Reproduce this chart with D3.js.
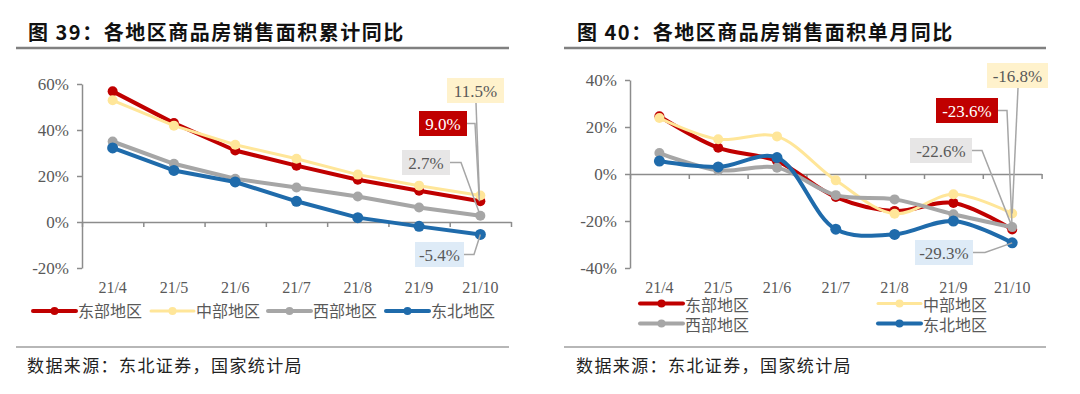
<!DOCTYPE html>
<html>
<head>
<meta charset="utf-8">
<script src="https://cdn.jsdelivr.net/npm/d3@7"></script>
<style>
  body { margin: 0; background: #fff; }
  svg { display: block; }
</style>
</head>
<body>
<svg></svg>
<script>
var months = ["21/4", "21/5", "21/6", "21/7", "21/8", "21/9", "21/10"];
var regions = ["东部地区", "中部地区", "西部地区", "东北地区"];

/* cumulative YoY, % */
var cumEast = [56.8, 43.0, 31.1, 24.5, 18.4, 13.6, 9.0];
var cumCentral = [52.9, 41.9, 33.6, 27.5, 20.6, 15.8, 11.5];
var cumWest = [35.0, 25.3, 18.8, 15.0, 11.1, 6.3, 2.7];
var cumNortheast = [32.2, 22.4, 17.4, 9.0, 1.9, -1.9, -5.4];

/* single month YoY, % */
var monEast = [24.6, 11.2, 5.5, -9.8, -15.7, -12.3, -23.6];
var monCentral = [23.8, 14.8, 16.0, -2.7, -16.9, -8.6, -16.8];
var monWest = [8.9, 1.6, 2.7, -9.0, -10.8, -17.1, -22.6];
var monNortheast = [5.5, 3.0, 7.0, -23.5, -25.7, -20.0, -29.3];

var leftTicks = [-20, 0, 20, 40, 60];
var rightTicks = [-40, -20, 0, 20, 40];

var colors = ["#c00000", "#ffe699", "#a6a6a6", "#1f6bab"];
var widths = [4, 3, 4, 4];
var boxFill = ["#c00000", "#fff2cc", "#e7e6e6", "#deebf7"];
var boxText = ["#ffffff", "#595959", "#595959", "#595959"];

var serif = "'Liberation Serif', 'Times New Roman', serif";
var cjk = "'Noto Sans CJK SC', sans-serif";

var svg = d3.select("svg").attr("width", 1080).attr("height", 394);
svg.append("rect").attr("width", 1080).attr("height", 394).attr("fill", "#fff");

var header = (x0, x1, tx, title) => {
  svg.append("text")
    .attr("x", tx)
    .attr("y", 40)
    .attr("font-family", cjk)
    .attr("font-weight", "bold")
    .attr("font-size", 20)
    .attr("letter-spacing", 1.5)
    .attr("fill", "#111")
    .text(title);
  svg.append("line")
    .attr("x1", x0).attr("x2", x1)
    .attr("y1", 48).attr("y2", 48)
    .attr("stroke", "#808080")
    .attr("stroke-width", 2.5);
  svg.append("line")
    .attr("x1", x0).attr("x2", x1)
    .attr("y1", 347).attr("y2", 347)
    .attr("stroke", "#707070")
    .attr("stroke-width", 1.2);
  svg.append("text")
    .attr("x", tx - 1)
    .attr("y", 372)
    .attr("font-family", cjk)
    .attr("font-size", 17)
    .attr("letter-spacing", 1.4)
    .attr("fill", "#222")
    .text("数据来源：东北证券，国家统计局");
};

var panel = (cfg) => {
  var x = d3.scaleBand().domain(months).range([cfg.x0, cfg.x1]);
  var xEdge = d3.scaleLinear().domain([0, months.length]).range([cfg.x0, cfg.x1]);
  var y = d3.scaleLinear().domain(cfg.domain).range([cfg.yBottom, cfg.yTop]);
  var cx = (m) => x(m) + x.bandwidth() / 2;

  var yAxis = d3.axisLeft(y)
    .tickValues(cfg.ticks)
    .tickFormat((d) => d + "%")
    .tickSize(5)
    .tickPadding(8)
    .tickSizeOuter(0);
  var gy = svg.append("g")
    .attr("transform", "translate(" + cfg.x0 + ",0)")
    .call(yAxis);
  gy.selectAll("text")
    .attr("font-family", serif)
    .attr("font-size", 17)
    .attr("fill", "#595959");

  var xAxis = d3.axisBottom(xEdge)
    .tickValues(d3.range(months.length + 1))
    .tickFormat("")
    .tickSize(5)
    .tickSizeOuter(0);
  svg.append("g")
    .attr("transform", "translate(0," + y(0) + ")")
    .call(xAxis);

  svg.selectAll(".domain, .tick line")
    .attr("stroke", "#8c8c8c")
    .attr("stroke-width", 1.5);

  svg.append("g")
    .selectAll("text")
    .data(months)
    .enter()
    .append("text")
    .attr("x", (m) => cx(m))
    .attr("y", 293)
    .attr("text-anchor", "middle")
    .attr("font-family", serif)
    .attr("font-size", 16)
    .attr("fill", "#595959")
    .text((m) => m);

  var line = d3.line()
    .x((d, i) => cx(months[i]))
    .y((d) => y(d))
    .curve(cfg.curve);

  cfg.series.forEach((vals, k) => {
    svg.append("path")
      .datum(vals)
      .attr("d", line)
      .attr("fill", "none")
      .attr("stroke", colors[k])
      .attr("stroke-width", widths[k])
      .attr("stroke-linejoin", "round");
    svg.append("g")
      .selectAll("circle")
      .data(vals)
      .enter()
      .append("circle")
      .attr("cx", (d, i) => cx(months[i]))
      .attr("cy", (d) => y(d))
      .attr("r", k == 3 ? 5.5 : 5)
      .attr("fill", colors[k]);
  });

  /* end-of-line value labels with leader lines */
  var last = months[months.length - 1];
  cfg.labels.forEach((lb) => {
    var v = cfg.series[lb.k][months.length - 1];
    var px = cx(last);
    var py = y(v);
    var pts = lb.path.concat([[px + (lb.dx || 0), py]]);
    svg.append("path")
      .attr("d", d3.line()(pts))
      .attr("fill", "none")
      .attr("stroke", "#a6a6a6")
      .attr("stroke-width", 1.5);
  });
  cfg.labels.forEach((lb) => {
    var v = cfg.series[lb.k][months.length - 1];
    svg.append("rect")
      .attr("x", lb.bx).attr("y", lb.by)
      .attr("width", lb.bw).attr("height", 25)
      .attr("fill", boxFill[lb.k]);
    svg.append("text")
      .attr("x", lb.bx + lb.bw / 2)
      .attr("y", lb.by + 18.5)
      .attr("text-anchor", "middle")
      .attr("font-family", serif)
      .attr("font-size", 17)
      .attr("fill", boxText[lb.k])
      .text(v.toFixed(1) + "%");
  });

  /* legend */
  cfg.legend.forEach((pos, k) => {
    var g = svg.append("g").attr("transform", "translate(" + pos[0] + "," + pos[1] + ")");
    g.append("line")
      .attr("x1", 0).attr("x2", 43)
      .attr("stroke", colors[k])
      .attr("stroke-width", widths[k])
      .attr("stroke-linecap", "round");
    g.append("circle").attr("cx", 21.5).attr("r", 4).attr("fill", colors[k]);
    g.append("text")
      .attr("x", 45)
      .attr("y", cfg.legendDy)
      .attr("font-family", cjk)
      .attr("font-size", 16)
      .attr("fill", "#595959")
      .text(regions[k]);
  });
};

header(16, 509, 28, "图 39：各地区商品房销售面积累计同比");
header(564, 1046, 577, "图 40：各地区商品房销售面积单月同比");

panel({
  x0: 82, x1: 511, yTop: 84, yBottom: 268,
  domain: [-20, 60], ticks: leftTicks,
  curve: d3.curveLinear,
  series: [cumEast, cumCentral, cumWest, cumNortheast],
  labels: [
    { k: 1, bx: 447, by: 78, bw: 57, path: [[476, 103]], dx: -1 },
    { k: 0, bx: 419, by: 111, bw: 48, path: [[467, 123.5], [475, 123.5]], dx: -1 },
    { k: 2, bx: 402, by: 150, bw: 48, path: [[450, 162.5], [461, 162.5]] },
    { k: 3, bx: 415, by: 242, bw: 49, path: [[464, 254.5], [474, 254.5]] }
  ],
  legendDy: 6,
  legend: [[33, 311], [151, 311], [268, 311], [386, 311]]
});

panel({
  x0: 630, x1: 1041.6, yTop: 80, yBottom: 268,
  domain: [-40, 40], ticks: rightTicks,
  curve: d3.curveCatmullRom.alpha(0.5),
  series: [monEast, monCentral, monWest, monNortheast],
  labels: [
    { k: 1, bx: 987, by: 63, bw: 61, path: [[1018, 88]] },
    { k: 0, bx: 936, by: 98, bw: 62, path: [[998, 110.5], [1007, 110.5]] },
    { k: 2, bx: 910, by: 138, bw: 62, path: [[972, 150.5], [982, 150.5]] },
    { k: 3, bx: 915, by: 240, bw: 58, path: [[973, 252.5], [985, 252.5]] }
  ],
  legendDy: 7.5,
  legend: [[640, 303.5], [878, 303.5], [640, 323.5], [878, 323.5]]
});
</script>
</body>
</html>
